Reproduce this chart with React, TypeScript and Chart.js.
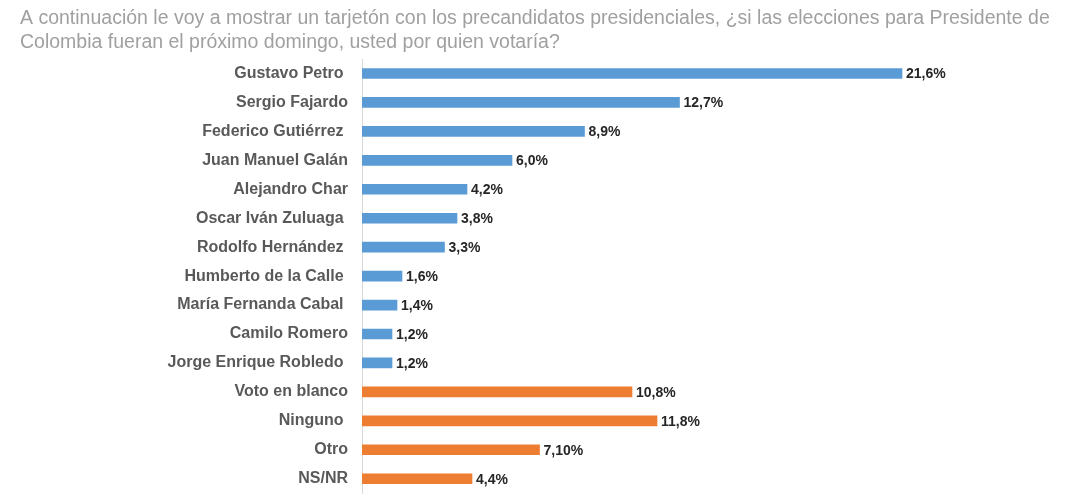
import React, { useEffect, useRef } from "react";
import { Chart, registerables } from "chart.js";

Chart.register(...registerables);

const titleLines = [
  "A continuación le voy a mostrar un tarjetón con los precandidatos presidenciales, ¿si las elecciones para Presidente de",
  "Colombia fueran el próximo domingo, usted por quien votaría?",
];

const categories = [
  "Gustavo Petro ",
  "Sergio Fajardo",
  "Federico Gutiérrez ",
  "Juan Manuel Galán",
  "Alejandro Char",
  "Oscar Iván Zuluaga ",
  "Rodolfo Hernández ",
  "Humberto de la Calle ",
  "María Fernanda Cabal ",
  "Camilo Romero",
  "Jorge Enrique Robledo ",
  "Voto en blanco",
  "Ninguno ",
  "Otro",
  "NS/NR",
];

const values = [21.6, 12.7, 8.9, 6.0, 4.2, 3.8, 3.3, 1.6, 1.4, 1.2, 1.2, 10.8, 11.8, 7.1, 4.4];

const valueLabels = [
  "21,6%", "12,7%", "8,9%", "6,0%", "4,2%", "3,8%", "3,3%", "1,6%", "1,4%", "1,2%", "1,2%",
  "10,8%", "11,8%", "7,10%", "4,4%",
];

const groups = [
  "candidato", "candidato", "candidato", "candidato", "candidato", "candidato",
  "candidato", "candidato", "candidato", "candidato", "candidato",
  "otro", "otro", "otro", "otro",
];

const groupColors: Record<string, string> = {
  candidato: "#5B9BD5",
  otro: "#ED7D31",
};

const FONT = "Arial, 'Liberation Sans', sans-serif";

const titlePlugin = {
  id: "customTitle",
  afterDraw(chart: any) {
    const ctx = chart.ctx;
    ctx.save();
    ctx.font = `19.5px ${FONT}`;
    ctx.fillStyle = "#a0a0a0";
    ctx.textAlign = "left";
    ctx.textBaseline = "alphabetic";
    titleLines.forEach((line, i) => {
      ctx.fillText(line, 20, 23.5 + i * 24);
    });
    ctx.restore();
  },
};

const valueLabelPlugin = {
  id: "valueLabels",
  afterDatasetsDraw(chart: any) {
    const ctx = chart.ctx;
    const meta = chart.getDatasetMeta(0);
    ctx.save();
    ctx.font = `bold 14px ${FONT}`;
    ctx.fillStyle = "#262626";
    ctx.textAlign = "left";
    ctx.textBaseline = "middle";
    meta.data.forEach((bar: any, i: number) => {
      ctx.fillText(valueLabels[i], bar.x + 4, bar.y + 1);
    });
    ctx.restore();
  },
};

export default function App() {
  const canvasRef = useRef<HTMLCanvasElement | null>(null);

  useEffect(() => {
    if (!canvasRef.current) return;
    const chart = new Chart(canvasRef.current, {
      type: "bar",
      data: {
        labels: categories,
        datasets: [
          {
            data: values,
            backgroundColor: groups.map((g) => groupColors[g]),
            barThickness: 10,
          },
        ],
      },
      options: {
        indexAxis: "y",
        animation: false,
        responsive: false,
        layout: { padding: { top: 59, bottom: 7.8, left: 0, right: 82 } },
        plugins: {
          legend: { display: false },
          title: { display: false },
          tooltip: { enabled: false },
        },
        scales: {
          x: {
            display: false,
            min: 0,
            max: 25,
          },
          y: {
            grid: { display: false, drawTicks: false },
            border: { display: true, color: "#d9d9d9", width: 1 },
            ticks: {
              padding: 14,
              color: "#595959",
              font: { family: FONT, size: 16, weight: "bold" },
            },
            afterFit(scale: any) {
              scale.width = 362;
              scale.paddingTop = 0;
              scale.paddingBottom = 0;
            },
          },
        },
      },
      plugins: [titlePlugin, valueLabelPlugin],
    });
    return () => chart.destroy();
  }, []);

  return (
    <div style={{ position: "absolute", left: 0, top: 0, width: 1069, height: 501, background: "#fff" }}>
      <canvas ref={canvasRef} width={1069} height={501} />
    </div>
  );
}
